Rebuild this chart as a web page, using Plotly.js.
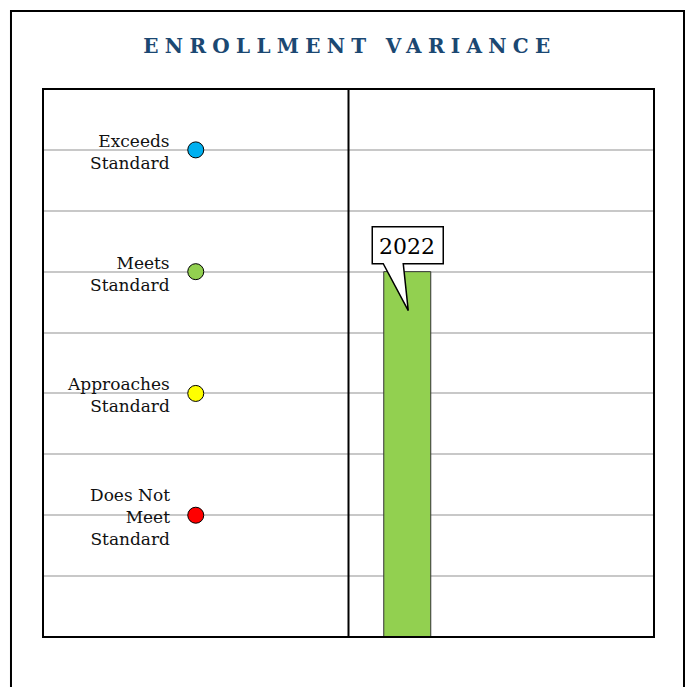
<!DOCTYPE html>
<html>
<head>
<meta charset="utf-8">
<script src="https://cdn.plot.ly/plotly-3.0.1.min.js"></script>
<style>
  html, body { margin: 0; padding: 0; background: #fff; }
  #chart { width: 693px; height: 687px; }
  .gtitle { letter-spacing: 6.3px !important; }
</style>
</head>
<body>
<div id="chart"></div>
<script>
// ---- data ----
var levelLabels = ["Exceeds<br>Standard", "Meets<br>Standard", "Approaches<br>Standard", "Does Not<br>Meet<br>Standard"];
var levelValues = [4, 3, 2, 1];
var levelColors = ["#00b0f0", "#92d050", "#ffff00", "#ff0000"];
var years = ["2022"];
var yearValues = [3];
var barColors = ["#92d050"];

var serif = "DejaVu Serif, Liberation Serif, serif";

var traces = [
  {
    type: "scatter", mode: "markers",
    x: levelValues.map(function(){ return 1; }), y: levelValues,
    xaxis: "x", yaxis: "y",
    marker: { size: 16, color: levelColors, line: { color: "#000", width: 1 } },
    cliponaxis: false, hoverinfo: "skip", showlegend: false
  },
  {
    type: "bar", x: years, y: yearValues,
    xaxis: "x2", yaxis: "y",
    width: 0.8,
    marker: { color: barColors, line: { color: "#333", width: 1 } },
    hoverinfo: "skip", showlegend: false
  }
];

var annotations = levelLabels.map(function(t, i){
  return {
    xref: "x", yref: "y", x: 1, y: levelValues[i], text: t,
    showarrow: false, xanchor: "right", yanchor: "middle", align: "right",
    xshift: -24, yshift: -2, font: { family: serif, size: 17, color: "#111" }
  };
});

var shapes = [
  // outer frame
  { type: "rect", xref: "paper", yref: "paper", x0: -0.0524, x1: 1.0491, y0: -0.15, y1: 1.1423,
    line: { color: "#000", width: 2 }, layer: "above" },
  // plot frame
  { type: "rect", xref: "paper", yref: "paper", x0: 0, x1: 1, y0: 0, y1: 1,
    line: { color: "#000", width: 2 }, layer: "above" },
  // divider
  { type: "line", xref: "paper", yref: "paper", x0: 0.5, x1: 0.5, y0: 0, y1: 1,
    line: { color: "#000", width: 2 }, layer: "above" }
];
// callout bubbles anchored to each bar top (category index i)
years.forEach(function(yr, i){
  shapes.push({
    type: "path", xref: "x2", yref: "y",
    xsizemode: "pixel", ysizemode: "pixel", xanchor: i, yanchor: yearValues[i],
    path: "M36,8 L-4,8 L1,-39 L-24,8 L-35,8 L-35,45 L36,45 Z",
    fillcolor: "#fff", line: { color: "#000", width: 1.5 }, layer: "above"
  });
  annotations.push({
    xref: "x2", yref: "y", x: i, y: yearValues[i], text: yr,
    showarrow: false, xanchor: "center", yanchor: "middle", yshift: 25,
    font: { family: serif, size: 22, color: "#000" }
  });
});

var layout = {
  width: 693, height: 687,
  margin: { l: 43, r: 39, t: 89, b: 50 },
  paper_bgcolor: "#fff", plot_bgcolor: "#fff",
  title: {
    text: "<b>ENROLLMENT VARIANCE</b>",
    x: 0.505, xanchor: "center", y: 0.933, yanchor: "middle",
    font: { family: serif, size: 20, color: "#1b4872" }
  },
  xaxis: { domain: [0, 0.5], range: [0, 2], showgrid: false, zeroline: false,
           showticklabels: false, ticks: "", fixedrange: true },
  xaxis2: { domain: [0.5, 1], type: "category", range: [-1, 4.2], showgrid: false, zeroline: false,
            showticklabels: false, ticks: "", fixedrange: true, anchor: "y" },
  yaxis: { range: [0, 4.5], tick0: 0, dtick: 0.5, showgrid: true, gridcolor: "#c8c8c8", gridwidth: 2,
           zeroline: false, showticklabels: false, ticks: "", fixedrange: true },
  bargap: 0.2,
  annotations: annotations,
  shapes: shapes,
  showlegend: false
};

Plotly.newPlot("chart", traces, layout, { displayModeBar: false, staticPlot: true });
</script>
</body>
</html>
